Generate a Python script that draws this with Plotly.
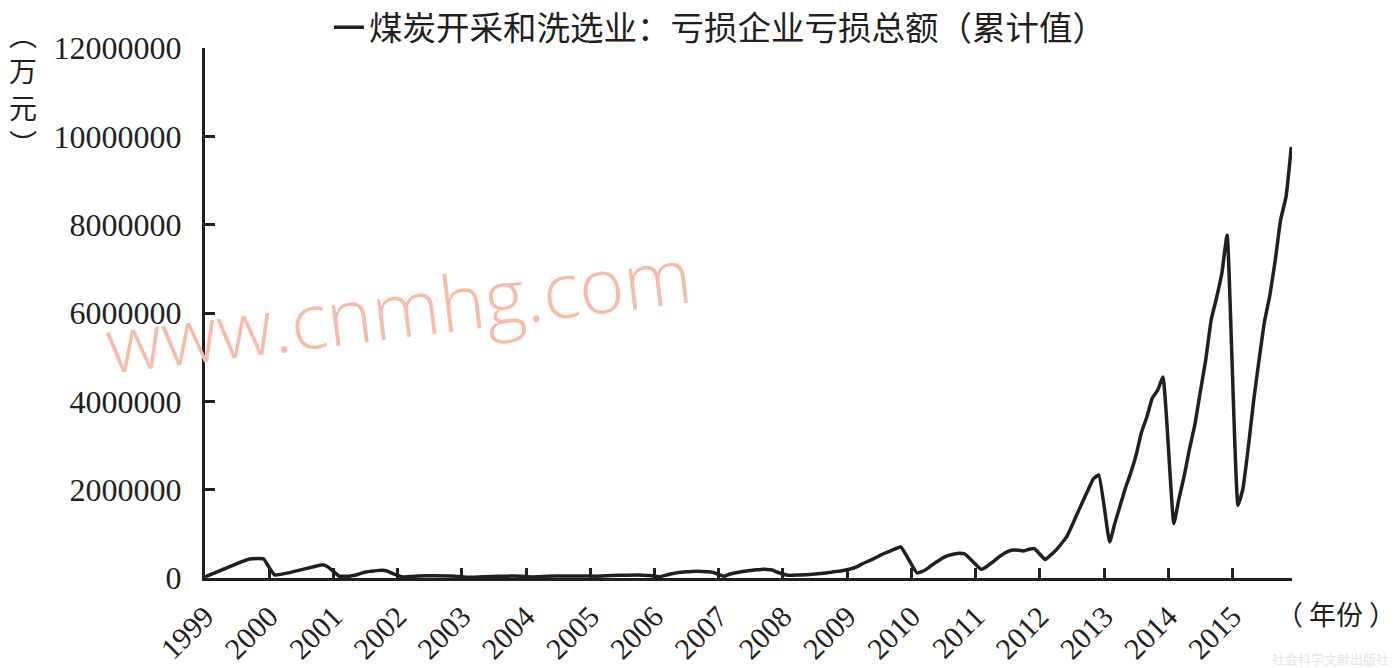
import plotly.graph_objects as go

# ---- data (monthly cumulative values, 万元) ----
dates = [
    "1999-01", "1999-09", "1999-10", "1999-11", "1999-12",
    "2000-02", "2000-11", "2000-12",
    "2001-02", "2001-03", "2001-04", "2001-05", "2001-06", "2001-07", "2001-08", "2001-09", "2001-10", "2001-11", "2001-12",
    "2002-02", "2002-05", "2002-08", "2002-11", "2002-12",
    "2003-02", "2003-05", "2003-08", "2003-12",
    "2004-02", "2004-05", "2004-08", "2004-12",
    "2005-02", "2005-05", "2005-08", "2005-11", "2005-12",
    "2006-02", "2006-03", "2006-04", "2006-05", "2006-06", "2006-07", "2006-08", "2006-09", "2006-10", "2006-11", "2006-12",
    "2007-02", "2007-03", "2007-04", "2007-05", "2007-06", "2007-07", "2007-08", "2007-09", "2007-10", "2007-11", "2007-12",
    "2008-02", "2008-03", "2008-04", "2008-05", "2008-06", "2008-07", "2008-08", "2008-09", "2008-10", "2008-11", "2008-12",
    "2009-02", "2009-03", "2009-04", "2009-05", "2009-06", "2009-07", "2009-08", "2009-09", "2009-10", "2009-11",
    "2010-02", "2010-03", "2010-04", "2010-05", "2010-06", "2010-07", "2010-08", "2010-09", "2010-10", "2010-11",
    "2011-02", "2011-03", "2011-04", "2011-05", "2011-06", "2011-07", "2011-08", "2011-09", "2011-10", "2011-11", "2011-12",
    "2012-02", "2012-03", "2012-04", "2012-05", "2012-06", "2012-07", "2012-08", "2012-09", "2012-10", "2012-11", "2012-12",
    "2013-02", "2013-03", "2013-04", "2013-05", "2013-06", "2013-07", "2013-08", "2013-09", "2013-10", "2013-11", "2013-12",
    "2014-02", "2014-03", "2014-04", "2014-05", "2014-06", "2014-07", "2014-08", "2014-09", "2014-10", "2014-11", "2014-12",
    "2015-02", "2015-03", "2015-04", "2015-05", "2015-06", "2015-07", "2015-08", "2015-09", "2015-10", "2015-11", "2015-12",
]

loss_total = [
    25000, 420000, 435000, 440000, 430000,
    70000, 300000, 250000,
    45000, 38000, 40000, 61000, 100000, 136000, 152000, 167000, 174000, 158000, 106000,
    25000, 45000, 50000, 45000, 35000,
    15000, 30000, 40000, 40000,
    25000, 40000, 45000, 45000,
    40000, 55000, 65000, 65000, 55000,
    30000, 60000, 90000, 115000, 128000, 140000, 150000, 155000, 150000, 140000, 125000,
    40000, 85000, 115000, 135000, 155000, 170000, 185000, 195000, 195000, 180000, 130000,
    60000, 63000, 68000, 73000, 80000, 88000, 100000, 115000, 130000, 150000, 165000,
    220000, 265000, 330000, 385000, 440000, 500000, 560000, 610000, 660000, 705000,
    115000, 145000, 212000, 303000, 385000, 462000, 514000, 544000, 560000, 544000,
    197000, 250000, 340000, 439000, 530000, 598000, 634000, 627000, 611000, 650000, 666000,
    417000, 514000, 627000, 770000, 930000, 1180000, 1460000, 1730000, 1990000, 2250000, 2330000,
    815000, 1220000, 1630000, 2030000, 2380000, 2780000, 3300000, 3650000, 4070000, 4250000, 4550000,
    1232000, 1776000, 2310000, 2922000, 3481000, 4206000, 4931000, 5837000, 6328000, 6900000, 7760000,
    1647000, 2025000, 2976000, 4018000, 4946000, 5792000, 6403000, 7203000, 8102000, 8630000, 9760000,
]

year_ticks = [f"{y}-01-01" for y in range(1999, 2016)]
year_labels = [str(y) for y in range(1999, 2016)]
y_ticks = [0, 2000000, 4000000, 6000000, 8000000, 10000000, 12000000]
y_labels = [str(v) for v in y_ticks]

series_name = "煤炭开采和洗选业：亏损企业亏损总额（累计值）"

SERIF = "Liberation Serif, Times New Roman, serif"
CJK = "Noto Sans CJK SC, sans-serif"
INK = "#231f20"

fig = go.Figure()
fig.add_trace(go.Scatter(
    x=dates, y=loss_total, mode="lines", name=series_name,
    line=dict(color=INK, width=3.5, shape="spline", smoothing=0.4),
))

fig.update_layout(
    width=1395, height=668,
    margin=dict(l=205, r=103, t=48, b=90, autoexpand=False),
    paper_bgcolor="white", plot_bgcolor="white",
    showlegend=True,
    legend=dict(
        orientation="h", x=0.114, xanchor="left", y=0.985, yanchor="bottom",
        font=dict(family=CJK, size=33.5, color=INK),
        bgcolor="rgba(0,0,0,0)",
    ),
    xaxis=dict(
        type="date", range=["1999-01-01", "2015-12-05"],
        tickmode="array", tickvals=year_ticks, ticktext=year_labels,
        tickangle=-45, ticks="inside", ticklen=10, tickwidth=3, tickcolor=INK,
        showline=True, linewidth=3, linecolor=INK, showgrid=False, zeroline=False,
        tickfont=dict(family=SERIF, size=30, color=INK),
        ticklabelstandoff=6,
    ),
    yaxis=dict(
        range=[0, 12000000],
        tickmode="array", tickvals=y_ticks, ticktext=y_labels,
        ticks="inside", ticklen=10, tickwidth=3, tickcolor=INK,
        showline=True, linewidth=3, linecolor=INK, showgrid=False, zeroline=False,
        tickfont=dict(family=SERIF, size=32, color=INK),
        ticklabelstandoff=14,
    ),
)

# watermark
fig.add_annotation(
    text="www.cnmhg.com", xref="paper", yref="paper", x=0.178, y=0.509,
    xanchor="center", yanchor="middle",
    showarrow=False, textangle=-7,
    font=dict(family="Open Sans, sans-serif", size=77, color="rgb(247,187,170)", weight=300),
)
# y unit
fig.add_annotation(
    text="︵<br>万<br>元<br>︶", xref="paper", yref="paper", x=-0.1674, y=0.924,
    xanchor="center", yanchor="middle",
    showarrow=False, font=dict(family=CJK, size=28, color=INK),
)
# x unit
fig.add_annotation(
    text="（ 年份 ）", xref="paper", yref="paper", x=1.0405, y=-0.0666,
    xanchor="center", yanchor="middle",
    showarrow=False, font=dict(family=CJK, size=27, color=INK),
)
# publisher mark
fig.add_annotation(
    text="社会科学文献出版社", xref="paper", yref="paper", x=1.035, y=-0.1515,
    xanchor="center", yanchor="middle",
    showarrow=False, font=dict(family=CJK, size=13, color="#e4e4e4"),
)

fig.write_html(
    "out.html",
    config={"displayModeBar": False},
    post_script="document.body.style.margin='0';",
)
